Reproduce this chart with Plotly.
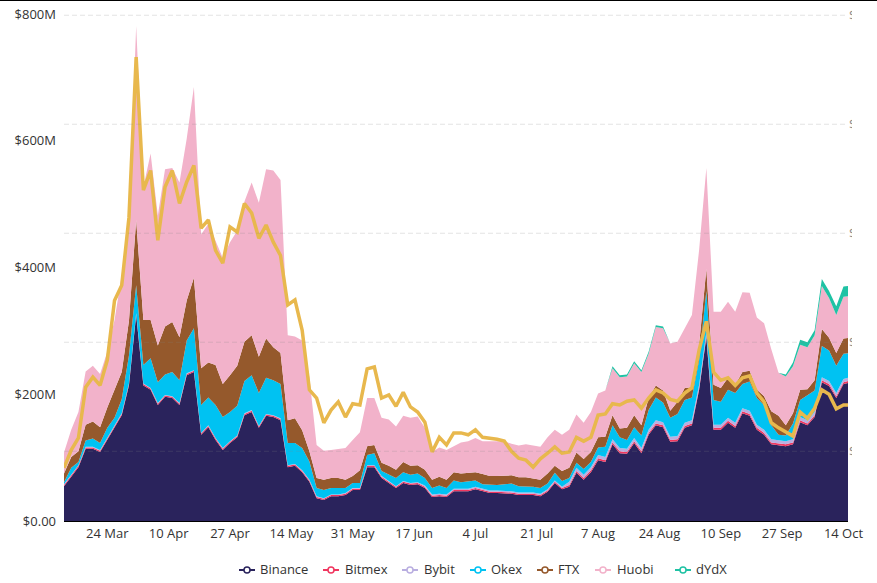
import pandas as pd
import plotly.graph_objects as go

# every second day from 12 Mar 2021, values in $M
dates = pd.date_range('2021-03-12', periods=110, freq='2D')

binance = [55,71,85,114,114,109,128,147,167,214,325,214,207,183,196,194,183,230,235,136,
           148,128,112,123,132,167,172,147,166,164,159,85,87,77,62,36,33,39,39,41,
           49,49,85,85,68,60,52,60,57,58,52,38,39,38,47,47,47,50,47,44,
           44,44,43,41,41,41,39,46,60,50,54,76,65,77,96,93,121,107,106,123,
           107,136,151,148,125,126,147,151,207,290,144,144,155,147,170,166,144,136,121,120,
           118,121,156,151,164,219,213,194,216,219]
bitmex = [2]*50 + [2]*20 + [3]*40
bybit = [1]*50 + [2]*20 + [5]*40
okex = [3,10,5,10,13,11,16,13,22,44,44,29,47,33,32,38,36,52,66,44,
        44,52,49,46,47,51,55,52,57,55,54,35,33,35,29,13,13,10,10,8,
        8,8,16,19,8,11,13,14,13,14,12,10,13,10,13,10,12,10,7,9,
        9,10,12,10,10,9,9,9,12,9,6,8,9,8,12,16,22,17,14,17,
        20,31,36,31,30,35,36,36,39,65,39,36,44,47,38,46,42,39,22,8,
        9,25,27,40,34,49,48,43,40,38]
ftx = [14,17,17,25,27,25,32,44,43,55,103,71,60,58,76,79,68,63,80,58,
       55,63,52,58,63,62,63,57,62,52,49,36,39,28,16,16,16,16,16,13,
       11,20,14,13,13,13,13,16,14,13,13,13,14,13,13,14,13,13,16,14,
       14,13,13,14,14,13,13,16,11,16,16,16,16,16,16,16,16,14,19,19,
       16,19,19,19,11,19,19,16,24,35,24,22,19,13,19,17,13,14,22,30,
       16,16,16,9,16,27,20,20,24,24]
huobi = [33,43,62,84,88,84,88,110,153,162,306,210,263,205,248,243,244,255,301,211,
         219,197,199,210,213,221,241,243,267,279,273,134,129,142,117,52,46,44,46,50,
         57,60,76,74,71,73,68,73,76,77,66,44,46,47,41,49,50,54,52,55,
         55,55,50,50,52,52,52,57,57,57,60,60,57,63,69,73,74,81,81,82,
         84,70,92,98,106,95,95,114,150,159,115,120,120,115,126,123,114,115,98,68,
         77,74,71,66,71,68,63,60,66,66]
dydx = [0]*76 + [3]*8 + [0]*16 + [3,6,8,8,8,11,11,14,16,16]
price_line = [84,112,131,211,227,214,254,348,372,479,732,522,553,443,527,553,501,535,561,462,
              475,427,407,464,456,501,486,446,467,440,419,341,349,301,207,194,155,175,188,164,
              185,183,240,243,194,199,181,203,180,172,156,109,132,120,139,139,136,144,132,131,
              129,126,110,99,96,85,98,107,117,107,109,132,126,132,167,169,185,183,189,191,
              178,194,207,202,192,189,202,210,270,315,235,222,226,214,226,229,202,188,155,147,
              140,134,172,162,178,207,200,177,183,183]

names = ['Binance', 'Bitmex', 'Bybit', 'Okex', 'FTX', 'Huobi', 'dYdX']
series = [binance, bitmex, bybit, okex, ftx, huobi, dydx]
colors = ['#2a235c', '#f0365f', '#b9aee0', '#00c2f2', '#95592c', '#f2b2ca', '#1fc2a4']

y_ticks = [0, 200, 400, 600, 800]
y_labels = ['$0.00', '$200M', '$400M', '$600M', '$800M']
x_ticks = ['2021-03-24', '2021-04-10', '2021-04-27', '2021-05-14', '2021-05-31', '2021-06-17', '2021-07-04',
           '2021-07-21', '2021-08-07', '2021-08-24', '2021-09-10', '2021-09-27', '2021-10-14']
x_labels = ['24 Mar', '10 Apr', '27 Apr', '14 May', '31 May', '17 Jun', '4 Jul',
            '21 Jul', '7 Aug', '24 Aug', '10 Sep', '27 Sep', '14 Oct']
grid_vals = [110, 282, 454, 626, 798]

# legend is uneven in the original, so it is placed by hand (page pixels)
legend_key_x = [247, 331, 410, 478, 545, 603, 683]
legend_text_x = [260, 345, 424, 491, 558, 617, 696]
legend_y = 570


def paper_x(px):
    return (px - 64) / 784


def paper_y(py):
    return (521 - py) / 507


fig = go.Figure()
for name, vals, col in zip(names, series, colors):
    fig.add_trace(go.Scatter(x=dates, y=vals, stackgroup='one', mode='lines', line=dict(width=0),
                             fillcolor=col, showlegend=False, name=name))

fig.add_trace(go.Scatter(x=dates, y=price_line, mode='lines', yaxis='y2', showlegend=False,
                         line=dict(color='#e8b84d', width=3.5)))

shapes = [
    dict(type='line', xref='paper', yref='paper', x0=-0.1, x1=1.1, y0=1.027, y1=1.027,
         line=dict(color='black', width=1.5)),
    # the right axis labels are cut off in the original
    dict(type='rect', xref='paper', yref='paper', x0=1.0051, x1=1.05, y0=0, y1=1.02,
         fillcolor='white', line=dict(width=0), layer='above'),
]
# grid sits on top of the areas
for val in grid_vals:
    shapes.append(dict(type='line', xref='paper', yref='y2', x0=0, x1=1, y0=val, y1=val, layer='above',
                       line=dict(color='rgba(130,130,130,0.22)', width=1, dash='5px,3px')))

annotations = []
for name, col, kx, tx in zip(names, colors, legend_key_x, legend_text_x):
    shapes.append(dict(type='line', xref='paper', yref='paper', x0=paper_x(kx - 8), x1=paper_x(kx + 8),
                       y0=paper_y(legend_y), y1=paper_y(legend_y), line=dict(color=col, width=2)))
    shapes.append(dict(type='circle', xref='paper', yref='paper', x0=paper_x(kx - 3), x1=paper_x(kx + 3),
                       y0=paper_y(legend_y + 3), y1=paper_y(legend_y - 3), fillcolor='white',
                       line=dict(color=col, width=1.5)))
    annotations.append(dict(text=name, xref='paper', yref='paper', x=paper_x(tx), y=paper_y(legend_y - 1),
                            xanchor='left', yanchor='middle', showarrow=False, xshift=-2,
                            font=dict(size=13, color='#333333')))

fig.update_layout(
    width=877, height=583,
    margin=dict(l=64, r=29, t=14, b=62, autoexpand=False),
    paper_bgcolor='white', plot_bgcolor='white',
    showlegend=False,
    font=dict(family='Open Sans', size=13, color='#333333'),
    xaxis=dict(range=['2021-03-12', '2021-10-15 06:00'], tickvals=x_ticks, ticktext=x_labels,
               showgrid=False, showline=True, linecolor='black', ticks='', zeroline=False),
    yaxis=dict(range=[0, 800], tickvals=y_ticks, ticktext=y_labels, showgrid=False, zeroline=False,
               ticks='', ticklabelstandoff=7),
    yaxis2=dict(range=[0, 800], overlaying='y', side='right', tickvals=grid_vals, ticktext=['$'] * 5,
                showgrid=False, zeroline=False, tickfont=dict(color='#888888', size=13), ticks=''),
    shapes=shapes,
    annotations=annotations,
)

fig.write_html('out.html', post_script="document.body.style.margin='0'", config=dict(displayModeBar=False))
